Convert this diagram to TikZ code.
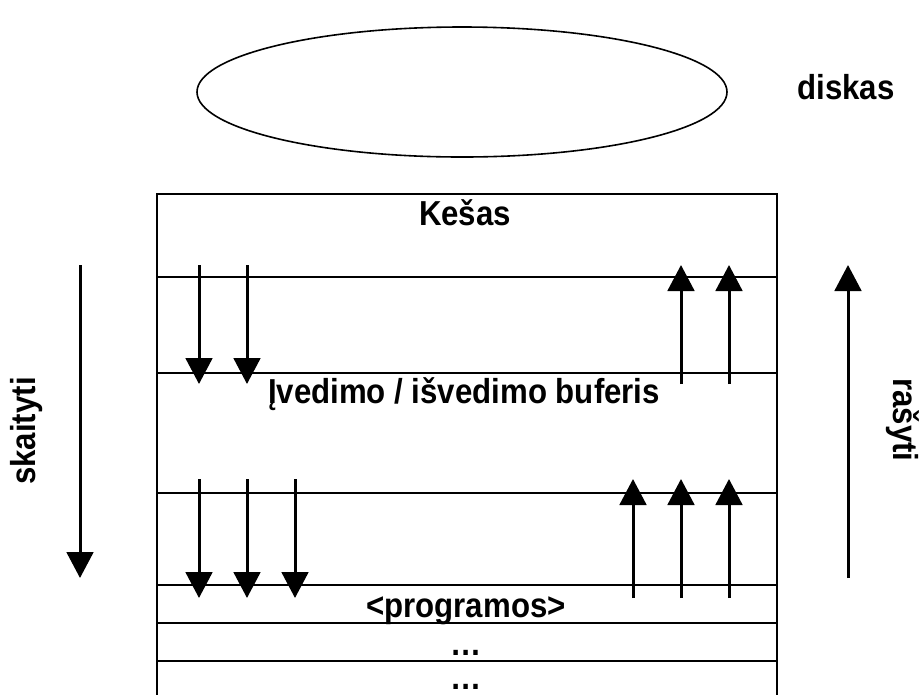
\documentclass[tikz,border=0pt]{standalone}
\usepackage{fontspec}
\setmainfont{Liberation Sans}
\newfontfamily\lblfont[FakeStretch=0.9]{Liberation Sans}
\usetikzlibrary{arrows.meta,shapes.geometric}

\tikzset{every picture/.style={line width=0.75pt}}
\tikzset{
  lbl/.style={font=\lblfont\fontsize{26}{30}\selectfont\bfseries, inner sep=0.75pt},
  flow/.style={line width=2.25pt, -{Triangle[length=19.5pt,width=20pt]}},
  rowline/.style={line width=1.5pt}
}

\begin{document}
\begin{tikzpicture}[x=0.75pt,y=0.75pt,yscale=-1,xscale=1]
\path[use as bounding box] (0,0) rectangle (921,694);

% Disk
\node [draw, ellipse, line width=1.2pt, minimum width=397.5pt, minimum height=97.5pt, inner sep=0pt] (disk) at (462,92) {};
% Text Node
\node [lbl, anchor=base] (diskas) at (846,99) {diskas};

% Cache box
\draw [rowline] (157,700) -- (157,194) -- (777,194) -- (777,700);
\draw [rowline] (157,277) -- (777,277);
\draw [rowline] (157,373) -- (777,373);
\draw [rowline] (157,493) -- (777,493);
\draw [rowline] (157,585) -- (777,585);
\draw [rowline] (157,623) -- (777,623);
\draw [rowline] (157,661) -- (777,661);

% Text Node
\node [lbl, anchor=base] (kesas) at (465,225) {Kešas};
% Text Node
\node [lbl, anchor=base] (buferis) at (464,403) {Įvedimo / išvedimo buferis};
% Text Node
\node [lbl, anchor=base] (programos) at (466,617) {<programos>};
% Text Node
\node [lbl, anchor=base] (dots1) at (466,655) {…};
% Text Node
\node [lbl, anchor=base, text depth=0pt] (dots2) at (466,689) {…};

% Connection
\foreach \x [count=\i] in {199,247} {
  \coordinate (inA\i) at (\x,265);
  \coordinate (inB\i) at (\x,384);
  \draw [flow] (inA\i) -- (inB\i);
}
% Connection
\foreach \x [count=\i] in {681,729} {
  \coordinate (outA\i) at (\x,384);
  \coordinate (outB\i) at (\x,265);
  \draw [flow] (outA\i) -- (outB\i);
}
% Connection
\foreach \x [count=\i] in {199,247,295} {
  \coordinate (rdA\i) at (\x,479);
  \coordinate (rdB\i) at (\x,598);
  \draw [flow] (rdA\i) -- (rdB\i);
}
% Connection
\foreach \x [count=\i] in {633,681,729} {
  \coordinate (wrA\i) at (\x,598);
  \coordinate (wrB\i) at (\x,479);
  \draw [flow] (wrA\i) -- (wrB\i);
}

% Side arrows
\coordinate (readTop) at (80,265);
\coordinate (readBot) at (80,578);
\draw [flow] (readTop) -- (readBot);
\node [lbl, rotate=90, anchor=base] (skaityti) at (36,431) {skaityti};

\coordinate (writeBot) at (848,578);
\coordinate (writeTop) at (848,265);
\draw [flow] (writeBot) -- (writeTop);
\node [lbl, rotate=-90, anchor=base] (rasyti) at (893,420) {rašyti};

\end{tikzpicture}
\end{document}
